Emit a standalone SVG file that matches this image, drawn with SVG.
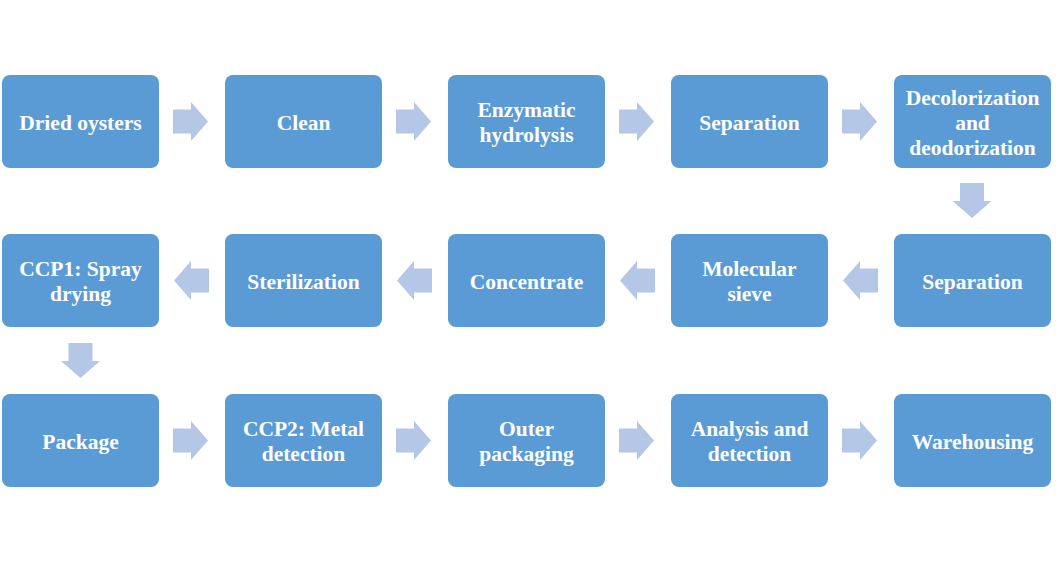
<svg xmlns="http://www.w3.org/2000/svg" xmlns:xlink="http://www.w3.org/1999/xlink" width="1059" height="562" viewBox="0 0 1059 562">
<style>
.box{fill:#5B9BD5;}
.t{font-family:"Liberation Serif","Times New Roman",serif;font-weight:bold;font-size:21.5px;fill:#FFFFFF;text-anchor:middle;}
.arr{fill:#B4C7E7;}
</style>
<defs>
<path id="ar" class="arr" d="M0,-12 H18 V-19.5 L35,0 L18,19.5 V12 H0 Z"/>
</defs>
<rect width="1059" height="562" fill="#FFFFFF"/>
<g id="connectors">
<use xlink:href="#ar" transform="translate(173,121.5)"/>
<use xlink:href="#ar" transform="translate(396,121.5)"/>
<use xlink:href="#ar" transform="translate(619,121.5)"/>
<use xlink:href="#ar" transform="translate(842,121.5)"/>
<use xlink:href="#ar" transform="translate(972,183) rotate(90)"/>
<use xlink:href="#ar" transform="translate(878,280.5) scale(-1,1)"/>
<use xlink:href="#ar" transform="translate(655,280.5) scale(-1,1)"/>
<use xlink:href="#ar" transform="translate(432,280.5) scale(-1,1)"/>
<use xlink:href="#ar" transform="translate(209,280.5) scale(-1,1)"/>
<use xlink:href="#ar" transform="translate(80.5,343) rotate(90)"/>
<use xlink:href="#ar" transform="translate(173,440.5)"/>
<use xlink:href="#ar" transform="translate(396,440.5)"/>
<use xlink:href="#ar" transform="translate(619,440.5)"/>
<use xlink:href="#ar" transform="translate(842,440.5)"/>
</g>
<g id="n1"><rect class="box" x="2" y="75" width="157" height="93" rx="8"/><text class="t" x="80.5" y="129.5">Dried oysters</text></g>
<g id="n2"><rect class="box" x="225" y="75" width="157" height="93" rx="8"/><text class="t" x="303.5" y="129.5">Clean</text></g>
<g id="n3"><rect class="box" x="448" y="75" width="157" height="93" rx="8"/><text class="t" x="526.5" y="117">Enzymatic</text><text class="t" x="526.5" y="142">hydrolysis</text></g>
<g id="n4"><rect class="box" x="671" y="75" width="157" height="93" rx="8"/><text class="t" x="749.5" y="129.5">Separation</text></g>
<g id="n5"><rect class="box" x="894" y="75" width="157" height="93" rx="8"/><text class="t" x="972.5" y="104.5">Decolorization</text><text class="t" x="972.5" y="129.5">and</text><text class="t" x="972.5" y="154.5">deodorization</text></g>
<g id="n6"><rect class="box" x="894" y="234" width="157" height="93" rx="8"/><text class="t" x="972.5" y="288.5">Separation</text></g>
<g id="n7"><rect class="box" x="671" y="234" width="157" height="93" rx="8"/><text class="t" x="749.5" y="276">Molecular</text><text class="t" x="749.5" y="301">sieve</text></g>
<g id="n8"><rect class="box" x="448" y="234" width="157" height="93" rx="8"/><text class="t" x="526.5" y="288.5">Concentrate</text></g>
<g id="n9"><rect class="box" x="225" y="234" width="157" height="93" rx="8"/><text class="t" x="303.5" y="288.5">Sterilization</text></g>
<g id="n10"><rect class="box" x="2" y="234" width="157" height="93" rx="8"/><text class="t" x="80.5" y="276">CCP1: Spray</text><text class="t" x="80.5" y="301">drying</text></g>
<g id="n11"><rect class="box" x="2" y="394" width="157" height="93" rx="8"/><text class="t" x="80.5" y="448.5">Package</text></g>
<g id="n12"><rect class="box" x="225" y="394" width="157" height="93" rx="8"/><text class="t" x="303.5" y="436">CCP2: Metal</text><text class="t" x="303.5" y="461">detection</text></g>
<g id="n13"><rect class="box" x="448" y="394" width="157" height="93" rx="8"/><text class="t" x="526.5" y="436">Outer</text><text class="t" x="526.5" y="461">packaging</text></g>
<g id="n14"><rect class="box" x="671" y="394" width="157" height="93" rx="8"/><text class="t" x="749.5" y="436">Analysis and</text><text class="t" x="749.5" y="461">detection</text></g>
<g id="n15"><rect class="box" x="894" y="394" width="157" height="93" rx="8"/><text class="t" x="972.5" y="448.5">Warehousing</text></g>
</svg>
